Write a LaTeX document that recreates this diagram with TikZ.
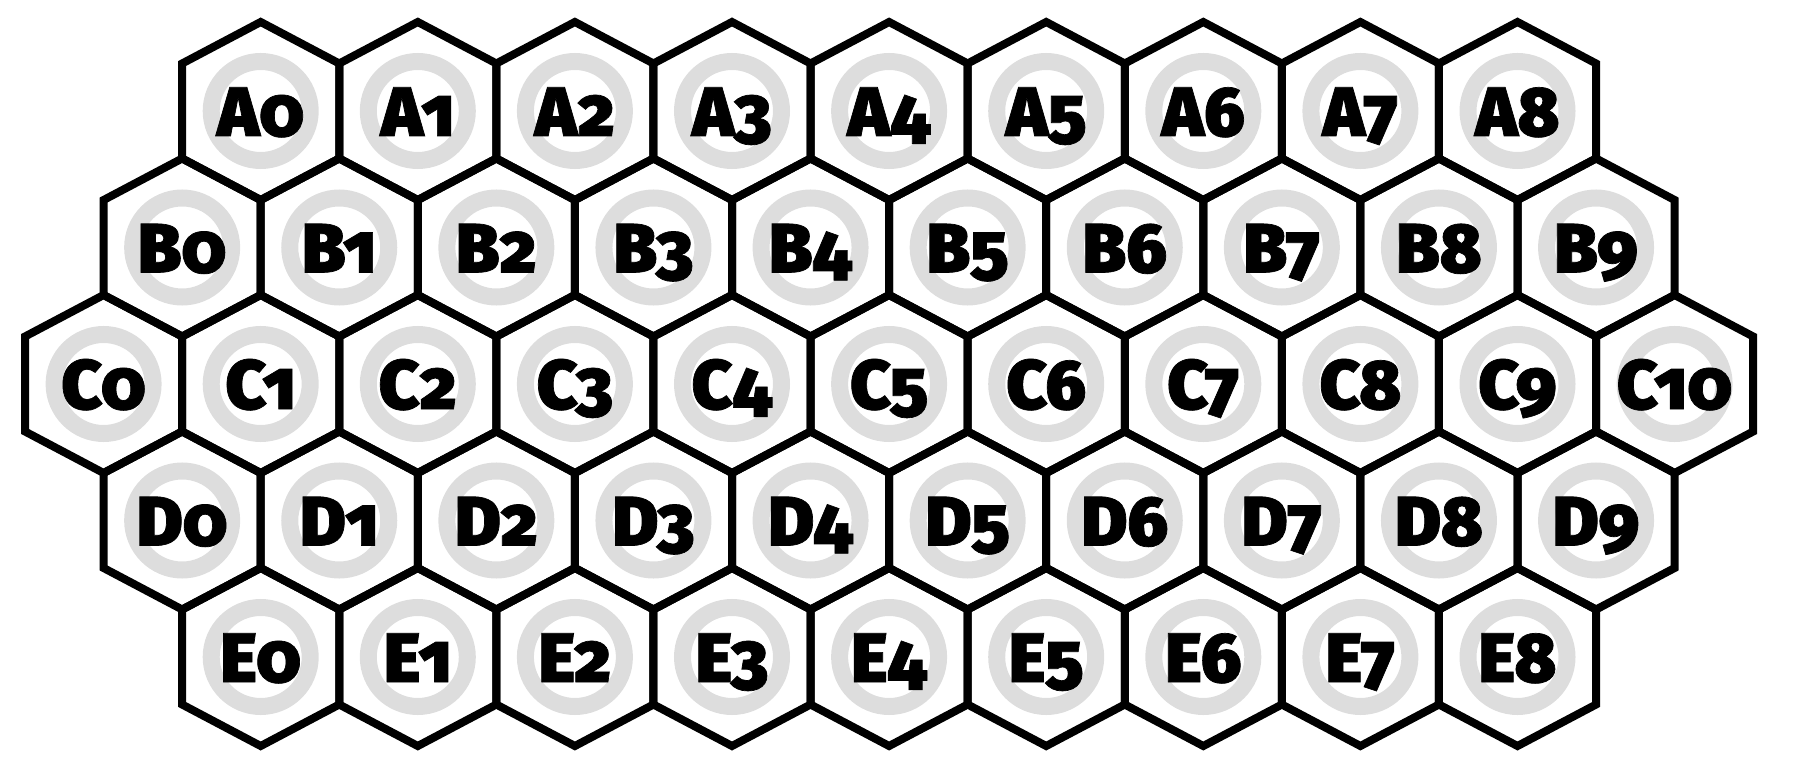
\documentclass[tikz,border=0pt]{standalone}
\usepackage{fontspec}
\newfontfamily\hexfont{Fira Sans Black}[Numbers=OldStyle, FakeBold=1]
\definecolor{ringgray}{RGB}{221,221,221}

\begin{document}
\begin{tikzpicture}[
    x=1pt, y=-1pt,
    cell/.style={draw, line width=8pt, line join=miter},
    ring/.style={draw=ringgray, line width=17pt},
    cellname/.style={font=\hexfont\fontsize{70}{70}\selectfont, inner sep=0pt, anchor=base}
]
    % Define coordinates
    \def\xo{103.6}   % centre of C0
    \def\dx{157.1}   % cell pitch
    \def\hw{78.55}   % half width
    \def\hs{47.5}    % half side
    \def\hr{89}      % centre to top vertex

    \useasboundingbox (0,0) rectangle (1817,767);

    % Cells: row letter / last index / shift / row centre
    \foreach \row/\n/\off/\y in {A/8/1/111, B/9/0.5/247.5, C/10/0/384, D/9/0.5/520.5, E/8/1/657} {
        \foreach \i in {0,...,\n} {
            \pgfmathsetmacro\cx{\xo + (\i+\off)*\dx}
            \draw[ring] (\cx,\y) circle[radius=49.5];
            \draw[cell] (\cx,\y-\hr) -- (\cx+\hw,\y-\hs) -- (\cx+\hw,\y+\hs)
                -- (\cx,\y+\hr) -- (\cx-\hw,\y+\hs) -- (\cx-\hw,\y-\hs) -- cycle;
            \node[cellname] (\row\i) at (\cx,\y+25) {\row\i};
        }
    }

\end{tikzpicture}
\end{document}
